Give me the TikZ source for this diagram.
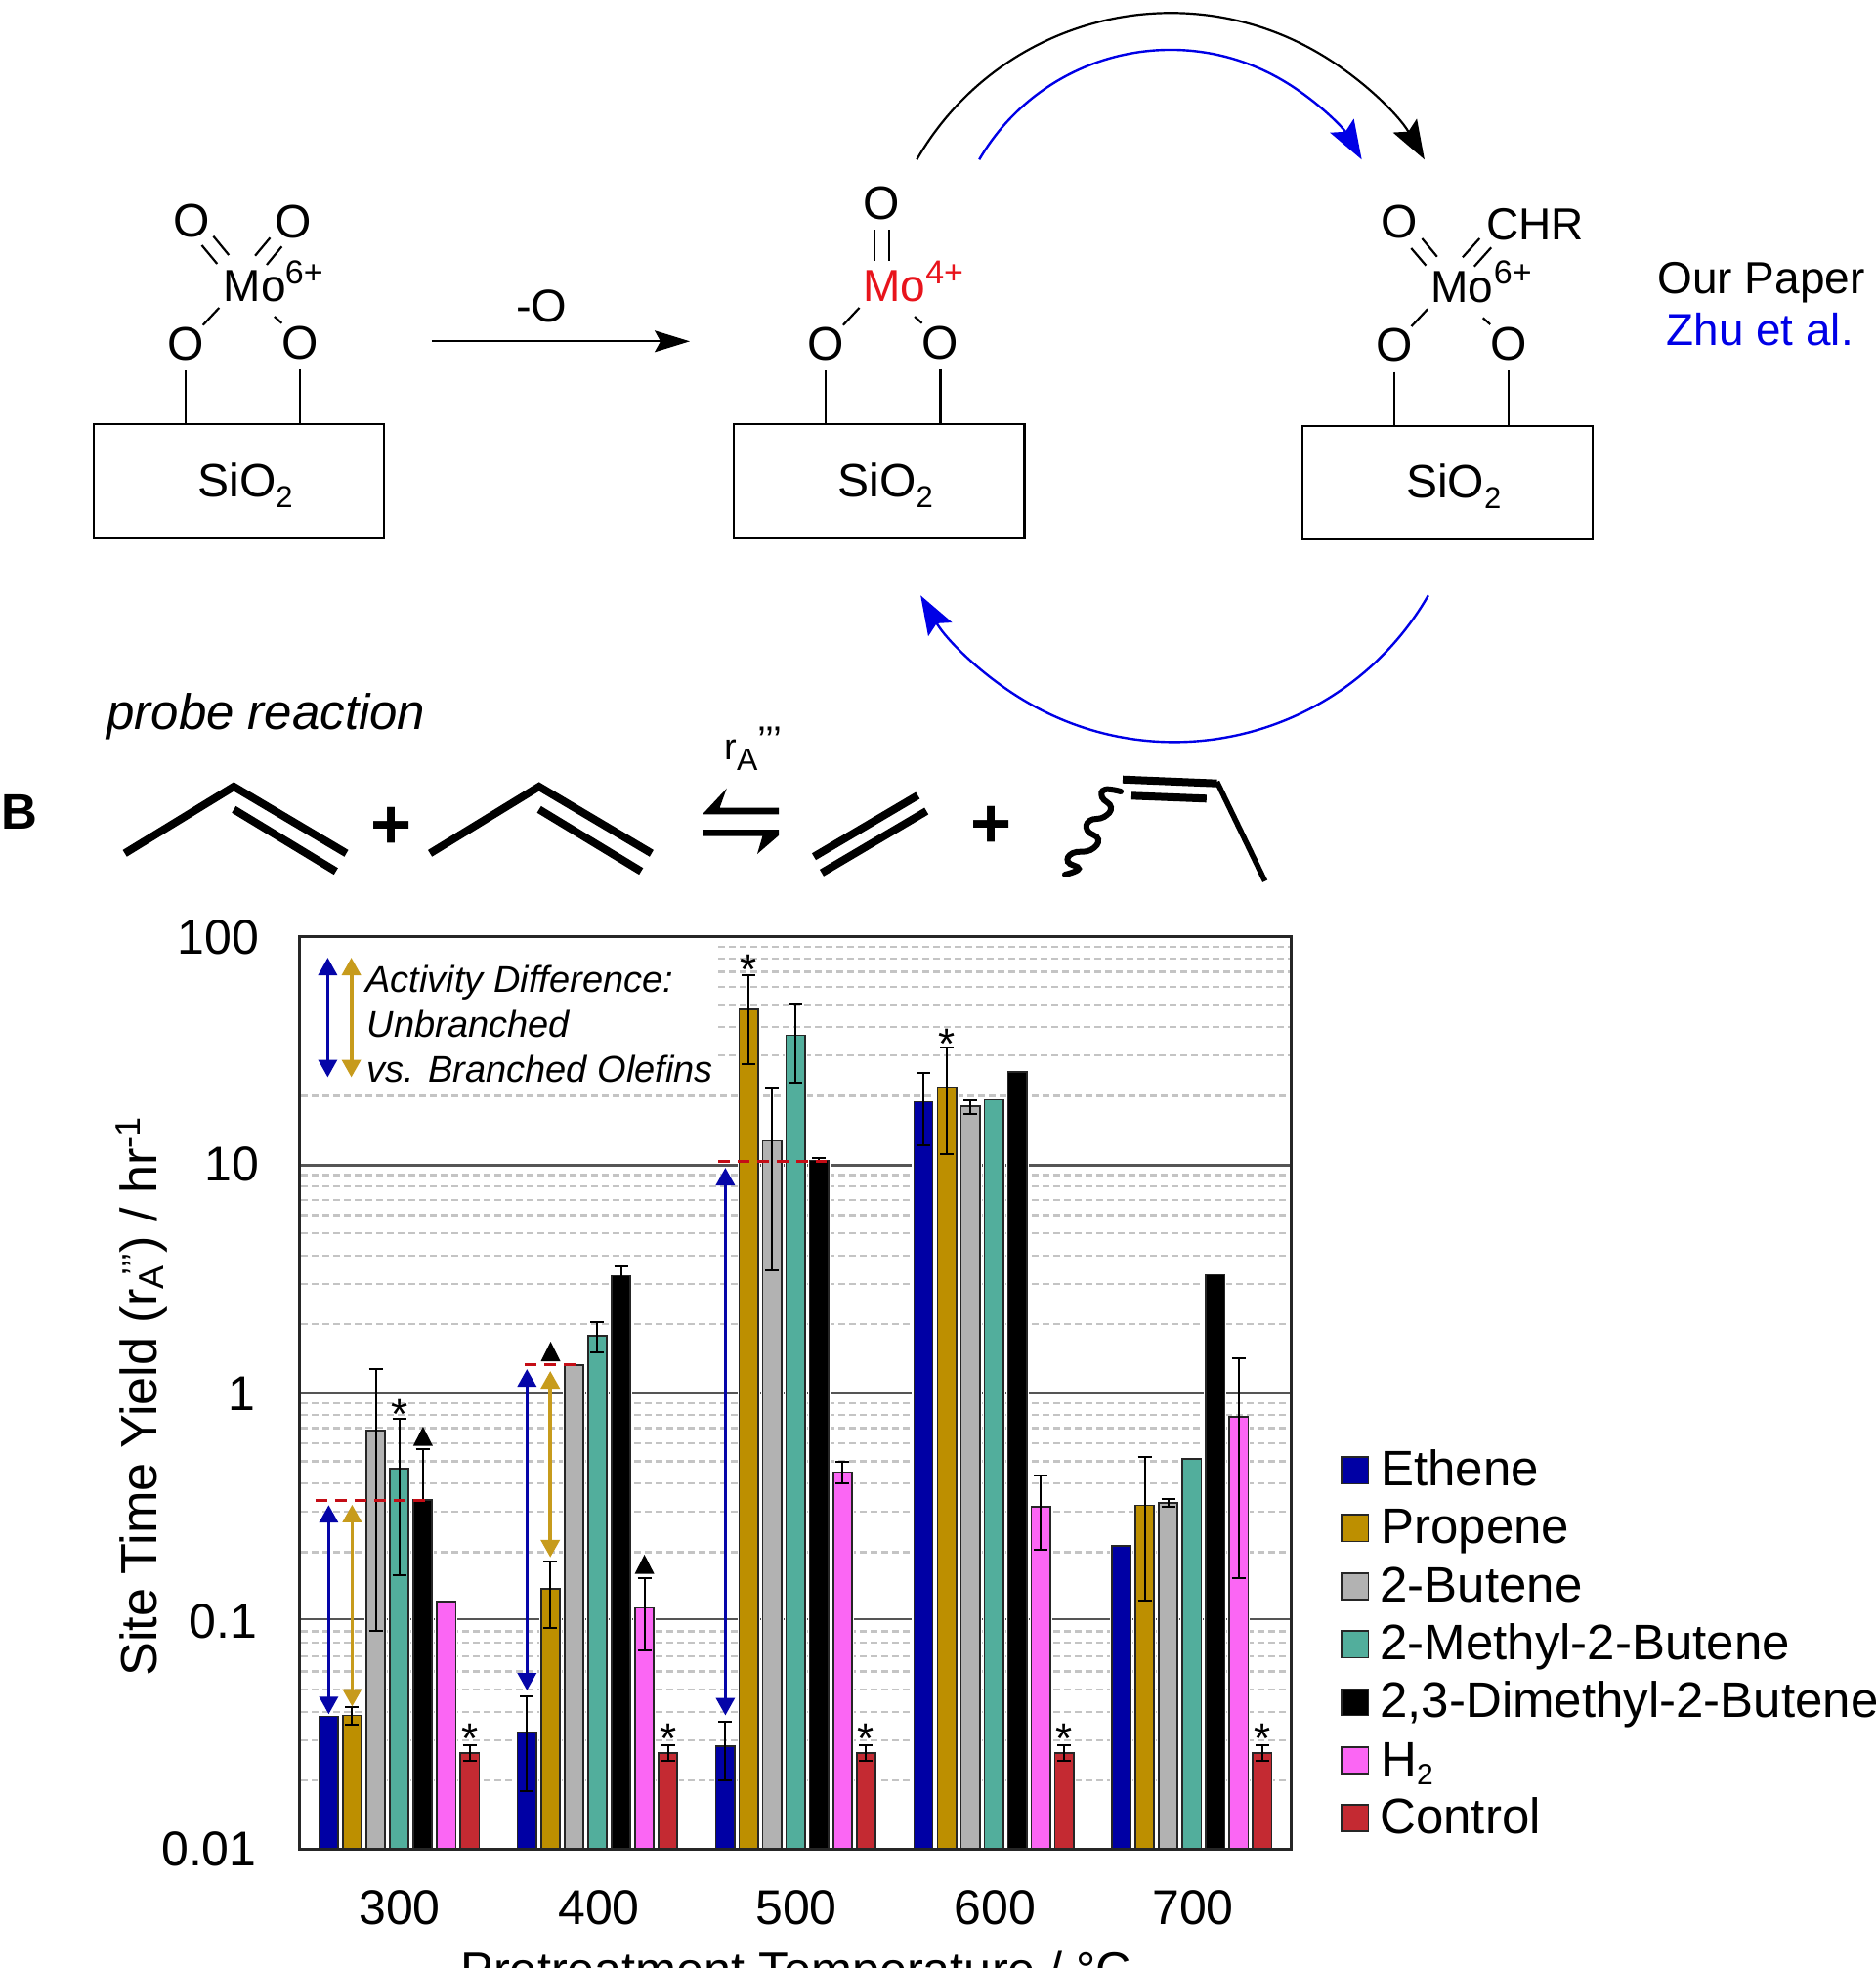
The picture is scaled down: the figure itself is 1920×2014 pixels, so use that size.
\documentclass[tikz,border=0pt]{standalone}
\usepackage{fontspec}
\setmainfont{Liberation Sans}
\usetikzlibrary{arrows.meta}
\newcommand{\fsz}[1]{\fontsize{#1pt}{#1pt}\selectfont}
\definecolor{c0}{HTML}{0000A4}
\definecolor{c1}{HTML}{BD8F00}
\definecolor{c2}{HTML}{B2B2B2}
\definecolor{c3}{HTML}{52AE9C}
\definecolor{c4}{HTML}{000000}
\definecolor{c5}{HTML}{FB66F4}
\definecolor{c6}{HTML}{C42A32}
\definecolor{arrgold}{HTML}{C79B1C}
\definecolor{arrblue}{HTML}{0505A8}
\definecolor{dashred}{HTML}{C40D16}
\definecolor{pureblue}{HTML}{0000E6}
\definecolor{molred}{HTML}{E8141C}
\definecolor{gridminor}{HTML}{C4C4C4}
\definecolor{gridmajor}{HTML}{555555}
\tikzset{
  bond/.style={line width=1.1pt,draw=black},
  atom/.style={font=\fsz{24},inner sep=0pt,anchor=center},
  lbl/.style={inner sep=0pt,anchor=base west},
  sibox/.style={draw=black,line width=1.1pt,minimum width=148.7pt,minimum height=58.2pt,inner sep=0pt},
  skeleton/.style={line width=4pt,draw=black,line cap=butt,line join=miter},
  errbar/.style={line width=1pt,draw=black},
  minorgrid/.style={line width=1.1pt,draw=gridminor,dash pattern=on 3.5pt off 2pt},
  majorgrid/.style={line width=1.1pt,draw=gridmajor},
  redline/.style={line width=1.5pt,draw=dashred,dash pattern=on 6pt off 4pt},
  dblblue/.style={line width=1.7pt,draw=arrblue,{Triangle[length=9pt,width=9.5pt,color=arrblue]}-{Triangle[length=9pt,width=9.5pt,color=arrblue]}},
  dblgold/.style={line width=1.9pt,draw=arrgold,{Triangle[length=9pt,width=9.5pt,color=arrgold]}-{Triangle[length=9pt,width=9.5pt,color=arrgold]}},
  star/.style={font=\fsz{22},inner sep=0pt,anchor=base},
  tick/.style={font=\fsz{25},inner sep=0pt},
  legsq/.style={draw=black!85,line width=.8pt},
  legtxt/.style={font=\fsz{25.5},inner sep=0pt,anchor=base west},
  cyclehead/.style={-{Stealth[length=20pt,width=14pt,inset=3.5pt]}},
}
% support: box, SiO2, the two lower O atoms with their bonds
\newcommand{\Support}[3]{%
  \begin{scope}[shift={(#2,#3)}]
    \node[sibox] (#1box) at (244.5,492.5) {};
    \node[lbl,font=\fsz{24}] (#1si) at (202,508.3) {SiO\raisebox{-5.5pt}{\fsz{15.5}2}};
    \node[atom] (#1ol) at (190,352) {O};
    \node[atom] (#1or) at (307.2,350.5) {O};
    \draw[bond,shorten <=5pt] (#1ol.south) -- (#1ol.south |- #1box.north);
    \draw[bond,shorten <=5pt] (#1or.south) -- (#1or.south |- #1box.north);
    \draw[bond] (207.7,332.7) -- (224.3,315);
    \draw[bond] (280.9,324) -- (288.4,330.7);
  \end{scope}}
\newcommand{\Propene}[2]{%
  \begin{scope}[shift={(#2,0)}]
    \draw[skeleton] (127.7,873.3) -- (239.3,805) -- (354.5,873.3);
    \draw[skeleton] (239.3,828.3) -- (343.8,891.7);
  \end{scope}}
\newcommand{\OneBar}[3]{%
  \fill[white] ({#1-11.6},{#3-1.5}) rectangle ({#1+11.6},1891);
  \filldraw[fill=#2,draw=black!85,line width=.8pt] ({#1-9.65},#3) rectangle ({#1+9.65},1892.2);}
\newcommand{\Group}[8]{%
  \OneBar{#1}{c0}{#2}\OneBar{#1+24.05}{c1}{#3}\OneBar{#1+48.1}{c2}{#4}%
  \OneBar{#1+72.15}{c3}{#5}\OneBar{#1+96.2}{c4}{#6}\OneBar{#1+120.25}{c5}{#7}\OneBar{#1+144.3}{c6}{#8}}
\newcommand{\Err}[4]{%
  \draw[errbar] ({#1+#2*24.05},#3) -- ({#1+#2*24.05},#4);
  \draw[errbar] ({#1+#2*24.05-7},#3) -- ({#1+#2*24.05+7},#3);
  \draw[errbar] ({#1+#2*24.05-7},#4) -- ({#1+#2*24.05+7},#4);}
\newcommand{\ErrUp}[3]{%
  \draw[errbar] ({#1+#2*24.05},#3) -- ({#1+#2*24.05},#3+30);
  \draw[errbar] ({#1+#2*24.05-7},#3) -- ({#1+#2*24.05+7},#3);}
\newcommand{\Tri}[3]{\fill[black] (#1,#2) -- ({#1+10},#3) -- ({#1-10},#3) -- cycle;}
\begin{document}
\begin{tikzpicture}[x=0.5pt,y=-0.5pt]
\useasboundingbox (0,0) rectangle (1920,2014);
\clip (0,0) rectangle (1920,2014);
\fill[white] (0,0) rectangle (1920,2014);

%% ---- top scheme ----
\Support{a}{0}{0}
\Support{b}{655.2}{0}
\Support{c}{1236.8}{1.3}

% molecule 1
\node[atom] (a1) at (196.5,225.7) {O};
\node[atom] (a2) at (300.5,226.7) {O};
\node[lbl,font=\fsz{23}] (amo) at (228.5,308.3) {Mo};
\node[lbl,font=\fsz{17}] (aq) at (291.5,290) {6+};
\draw[bond] (206.5,251) -- (222.3,270);
\draw[bond] (218.4,241.7) -- (234.2,261);
\draw[bond] (261.1,261.7) -- (276.5,243.3);
\draw[bond] (273,271) -- (288.4,252.3);

% reaction arrow
\coordinate (ra) at (441.8,349.3);
\coordinate (rb) at (706,349.3);
\draw[line width=1pt,-{Stealth[length=18pt,width=11pt,inset=3pt]}] (ra) -- (rb);
\node[lbl,font=\fsz{23.5}] (mo) at (527.8,329) {-O};

% molecule 2
\node[atom] (b1) at (902,208.3) {O};
\node[lbl,font=\fsz{23},text=molred] (bmo) at (882.8,308.3) {Mo};
\node[lbl,font=\fsz{17},text=molred] (bq) at (946.9,290) {4+};
\draw[bond] (894.7,235) -- (894.7,266.7);
\draw[bond] (909.7,235) -- (909.7,266.7);

% molecule 3
\node[atom] (c1) at (1432,227.3) {O};
\node[lbl,font=\fsz{23}] (cchr) at (1520.6,245) {CHR};
\node[lbl,font=\fsz{23}] (cmo) at (1464,309) {Mo};
\node[lbl,font=\fsz{17}] (cq) at (1528.5,290) {6+};
\draw[bond] (1444.3,254) -- (1459.4,271.7);
\draw[bond] (1455.4,244) -- (1470.8,262.7);
\draw[bond] (1496.9,263.3) -- (1514.3,244);
\draw[bond] (1508.8,272.7) -- (1526.2,253.3);

\node[lbl,font=\fsz{23}] (our) at (1696,300) {Our Paper};
\node[lbl,font=\fsz{22.9},text=pureblue] (zhu) at (1705.5,353.7) {Zhu et al.};

% cycle arcs
\coordinate (arcK) at (938.3,163.3);
\coordinate (arcB) at (1002.2,163.3);
\coordinate (arcR) at (1461.8,609.3);
\draw[line width=1.1pt,black,cyclehead] (arcK) arc[start angle=150,end angle=30,radius=150pt];
\draw[line width=1.2pt,pureblue,cyclehead] (arcB) arc[start angle=149.7,end angle=30.3,radius=113.35pt];
\draw[line width=1.2pt,pureblue,cyclehead] (arcR) arc[start angle=-30,end angle=-150,radius=150pt];

%% ---- probe reaction ----
\node[lbl,font=\fsz{25.5}\itshape] (probe) at (109,746.7) {probe reaction};
\node[lbl,font=\fsz{25.5}\bfseries] (panelB) at (1,848) {B};
\Propene{p1}{0}
\Propene{p2}{312.4}
\node[inner sep=0pt,anchor=base,font=\fsz{36}\bfseries] (plus1) at (401,868) {+};
\node[inner sep=0pt,anchor=base,font=\fsz{36}\bfseries] (plus2) at (1014.4,867) {+};
\node[lbl,font=\fsz{19}] (rate) at (741,777.3) {r\raisebox{-5.5pt}{\fsz{16}A}\raisebox{3pt}{\fsz{20}’’’}};
% equilibrium harpoons
\fill[black] (719,833.3) -- (743.8,806.7) -- (736.6,826.7) -- (797,826.7) -- (797,833.3) -- cycle;
\fill[black] (719,849) -- (797,849) -- (797,855) -- (775,874) -- (780.4,855.7) -- (719,855.7) -- cycle;
% ethene
\draw[skeleton] (833,876.7) -- (939.3,814);
\draw[skeleton] (841,893.3) -- (948.2,830);
% product olefin
\draw[skeleton] (1149,797.7) -- (1245.5,801.7);
\draw[skeleton] (1158,814.3) -- (1234.8,817.3);
\draw[line width=2.8pt,black,line join=miter] (1245.5,800) -- (1294.6,901.7);
\draw[line width=3pt,black,line cap=round] plot[smooth,tension=.8] coordinates {(1147,810) (1131,808) (1128,816) (1137,826) (1130,836) (1115,840) (1113,850) (1124,859) (1116,870) (1098,873) (1093,882) (1104,889) (1090,895)};

%% ---- chart ----
% minor grid
\foreach \d in {0,1,2,3}{
  \foreach \v in {.301,.477,.602,.699,.778,.845,.903,.954}{
    \pgfmathsetmacro{\yy}{1892.2-233.5*(\d+\v)}
    \pgfmathsetmacro{\xs}{(\d==3 && \v>.35) ? 735 : 308}
    \draw[minorgrid] (\xs,\yy) -- (1320,\yy);
  }
}
% major grid
\foreach \yy in {1192.5,1426.2,1657.2}{\draw[majorgrid] (308,\yy) -- (1320,\yy);}

% bars
\Group{336.4}{1756.3}{1755.5}{1463.8}{1503}{1535}{1638.8}{1793.9}
\Group{539.3}{1772.4}{1625.9}{1397}{1367}{1305.4}{1645.5}{1793.9}
\Group{742.1}{1787.2}{1033.2}{1167.5}{1059.6}{1187.5}{1506.5}{1793.9}
\Group{945}{1127.5}{1112.5}{1132}{1125.4}{1097}{1541.7}{1793.9}
\Group{1147.5}{1581.7}{1540.6}{1537.8}{1492.8}{1304.3}{1450.1}{1793.9}

% error bars
\Err{336.4}{1}{1747.3}{1764.9}
\Err{336.4}{2}{1401}{1669}
\Err{336.4}{3}{1451.7}{1611.8}
\ErrUp{336.4}{4}{1483.4}
\draw[errbar] (432.6,1513) -- (432.6,1535);
\Err{336.4}{6}{1785.7}{1802.1}
\Err{539.3}{0}{1735.5}{1832.7}
\Err{539.3}{1}{1597.7}{1665.5}
\Err{539.3}{3}{1352.9}{1383.6}
\ErrUp{539.3}{4}{1296.4}
\Err{539.3}{5}{1615.4}{1689}
\Err{539.3}{6}{1785.7}{1802.1}
\Err{742.1}{0}{1761.8}{1821.7}
\Err{742.1}{1}{997.9}{1089.3}
\Err{742.1}{2}{1112.9}{1299.6}
\Err{742.1}{3}{1027}{1107.9}
\Err{742.1}{4}{1185}{1189}
\Err{742.1}{5}{1496.3}{1518.2}
\Err{742.1}{6}{1785.7}{1802.1}
\Err{945}{0}{1097.5}{1172}
\Err{945}{1}{1071.8}{1181.4}
\Err{945}{2}{1125.7}{1140}
\Err{945}{5}{1510.4}{1586}
\Err{945}{6}{1785.7}{1802.1}
\Err{1147.5}{1}{1491.2}{1638}
\Err{1147.5}{2}{1533.5}{1542.1}
\Err{1147.5}{5}{1390.4}{1615}
\Err{1147.5}{6}{1785.7}{1802.1}

% red dashed levels
\draw[redline] (322.9,1535.5) -- (442.5,1535.5);
\draw[redline] (537,1396.8) -- (596,1396.8);
\draw[redline] (735,1188) -- (846,1188);

% difference arrows
\draw[dblblue] (336.4,1540.2) -- (336.4,1754.3);
\draw[dblgold] (360.4,1539.8) -- (360.4,1746.5);
\draw[dblblue] (539.3,1401) -- (539.3,1730);
\draw[dblgold] (563.2,1403) -- (563.2,1593.8);
\draw[dblblue] (742.4,1195) -- (742.4,1755.5);
\draw[dblblue] (335.4,980) -- (335.4,1102.5);
\draw[dblgold] (359.6,980) -- (359.6,1102.5);

% inset text
\node[lbl,font=\fsz{19}\itshape] (t1) at (374,1015) {Activity Difference:};
\node[lbl,font=\fsz{19}\itshape] (t2) at (375.4,1061.4) {Unbranched};
\node[lbl,font=\fsz{19}\itshape] (t3) at (375.4,1107) {vs. Branched Olefins};

% markers
\Tri{432.9}{1460}{1479.5}
\Tri{563.6}{1373}{1393}
\Tri{659.6}{1591}{1610.6}
\node[star] (s1) at (408.6,1462) {*};
\node[star] (s2) at (766,1007.4) {*};
\node[star] (s3) at (968.6,1083) {*};
\node[star] (s4) at (480.7,1794) {*};
\node[star] (s5) at (683.6,1794) {*};
\node[star] (s6) at (886.4,1794) {*};
\node[star] (s7) at (1089.3,1794) {*};
\node[star] (s8) at (1291.8,1794) {*};

% frame
\draw[line width=1.5pt,draw=black!85] (306.8,958.6) rectangle (1321.8,1892.2);

% axis numbers
\node[tick,anchor=base east] (y100) at (265.5,976) {100};
\node[tick,anchor=base east] (y10) at (265.5,1208.7) {10};
\node[tick,anchor=base east] (y1) at (262,1443.4) {1};
\node[tick,anchor=base east] (y01) at (263.5,1676) {0.1};
\node[tick,anchor=base east] (y001) at (263,1909) {0.01};
\node[tick,anchor=base] (x300) at (409,1969.7) {300};
\node[tick,anchor=base] (x400) at (613,1969.7) {400};
\node[tick,anchor=base] (x500) at (815,1969.7) {500};
\node[tick,anchor=base] (x600) at (1018.5,1969.7) {600};
\node[tick,anchor=base] (x700) at (1221,1969.7) {700};
\node[inner sep=0pt,anchor=base,font=\fsz{25.2}] (xlab) at (815,2033) {Pretreatment Temperature / °C};
\node[rotate=90,inner sep=0pt,anchor=base west,font=\fsz{26.1}] (ylab) at (160.7,1716)
  {Site Time Yield (r\rlap{\raisebox{-3.5pt}{\fsz{18}A}}\hspace{7pt}\raisebox{5pt}{\fsz{18}’’’}) / hr\raisebox{8.5pt}{\fsz{18}-1}};

% legend
\foreach \i/\yc in {0/1504.7,1/1563.7,2/1623.3,3/1682.7,4/1742,5/1801.3,6/1860.3}{
  \filldraw[legsq,fill=c\i] (1373,\yc-13.6) rectangle (1400.3,\yc+13.6);
}
\node[legtxt] (l0) at (1413,1520) {Ethene};
\node[legtxt] (l1) at (1413,1579.8) {Propene};
\node[legtxt] (l2) at (1412,1639.2) {2-Butene};
\node[legtxt] (l3) at (1412,1698.3) {2-Methyl-2-Butene};
\node[legtxt] (l4) at (1412,1757.6) {2,3-Dimethyl-2-Butene};
\node[legtxt] (l5) at (1413,1818.3) {H\raisebox{-4pt}{\fsz{15}2}};
\node[legtxt] (l6) at (1412,1876.5) {Control};
\end{tikzpicture}
\end{document}
